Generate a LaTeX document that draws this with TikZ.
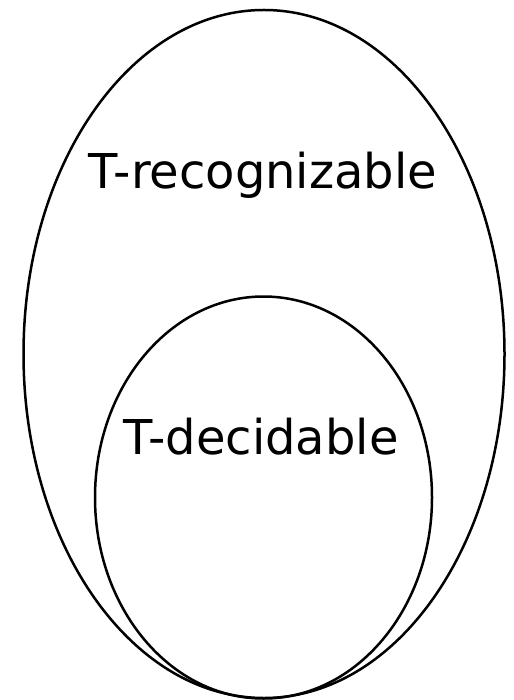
\documentclass[tikz,border=0pt]{standalone}
\usepackage{fontspec}
\setmainfont{DejaVu Sans}
\begin{document}
\begin{tikzpicture}[x=1pt,y=-1pt,
  setline/.style={line width=2.5pt,draw=black},
  settext/.style={font=\fontsize{48}{56}\selectfont,inner sep=0pt,anchor=base}]
\useasboundingbox (0,0) rectangle (513,700);
\draw[setline] (264,354) ellipse [x radius=240.5, y radius=344];
\draw[setline] (263.5,497.5) ellipse [x radius=168.5, y radius=201];
\node[settext] (rec) at (263,189) {T-recognizable};
\node[settext] (dec) at (261,454) {T-decidable};
\end{tikzpicture}
\end{document}
